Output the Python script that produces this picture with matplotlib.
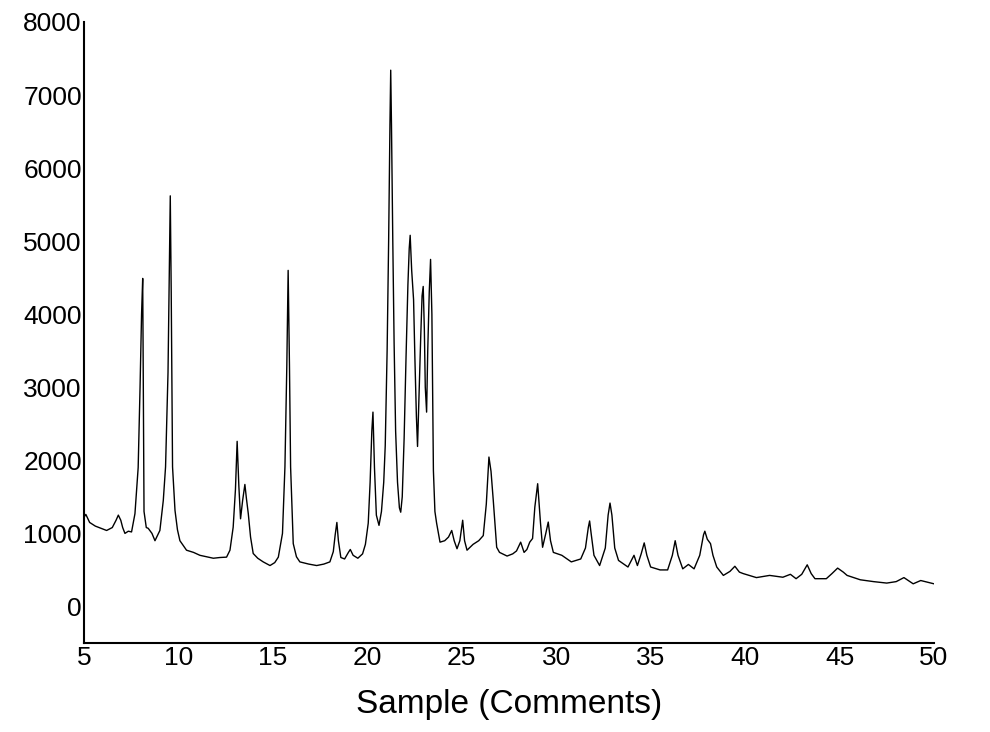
import matplotlib
matplotlib.use('Agg')
import matplotlib.pyplot as plt

# angle (2-theta) and intensity
two_theta = [
    5.0, 5.1, 5.3, 5.6, 6.0, 6.2, 6.5, 6.7, 6.82, 6.95, 7.05, 7.17, 7.35, 7.52,
    7.7, 7.87, 7.97, 8.05, 8.11, 8.15, 8.18, 8.3, 8.4, 8.6, 8.76, 9.02, 9.2,
    9.32, 9.45, 9.52, 9.57, 9.62, 9.69, 9.82, 9.95, 10.08, 10.43, 10.8, 11.14,
    11.5, 11.85, 12.2, 12.55, 12.73, 12.9, 13.02, 13.11, 13.2, 13.29, 13.4,
    13.52, 13.6, 13.7, 13.82, 13.96, 14.2, 14.49, 14.85, 15.1, 15.29, 15.51,
    15.64, 15.74, 15.81, 15.88, 15.94, 16.08, 16.25, 16.43, 16.9, 17.32, 17.7,
    18.02, 18.2, 18.3, 18.39, 18.47, 18.6, 18.8, 19.0, 19.1, 19.25, 19.5,
    19.75, 19.9, 20.05, 20.15, 20.24, 20.3, 20.38, 20.48, 20.62, 20.75, 20.87,
    20.95, 21.05, 21.13, 21.2, 21.24, 21.28, 21.35, 21.42, 21.5, 21.6, 21.7,
    21.77, 21.85, 21.95, 22.05, 22.15, 22.22, 22.27, 22.35, 22.45, 22.52,
    22.6, 22.66, 22.75, 22.83, 22.9, 22.96, 23.02, 23.07, 23.14, 23.2, 23.28,
    23.35, 23.42, 23.46, 23.5, 23.58, 23.67, 23.85, 24.1, 24.3, 24.47, 24.6,
    24.75, 24.9, 25.05, 25.15, 25.28, 25.6, 25.9, 26.14, 26.3, 26.44, 26.55,
    26.67, 26.85, 27.0, 27.4, 27.7, 27.9, 28.12, 28.3, 28.45, 28.6, 28.75,
    28.87, 29.02, 29.1, 29.17, 29.28, 29.45, 29.58, 29.7, 29.85, 30.3, 30.8,
    31.3, 31.55, 31.7, 31.77, 31.85, 32.0, 32.3, 32.6, 32.75, 32.85, 32.95,
    33.1, 33.3, 33.8, 34.12, 34.3, 34.5, 34.66, 34.8, 35.0, 35.5, 35.9, 36.15,
    36.3, 36.45, 36.7, 37.0, 37.3, 37.6, 37.8, 37.87, 38.0, 38.17, 38.3, 38.5,
    38.85, 39.2, 39.46, 39.7, 39.9, 40.6, 41.3, 42.0, 42.4, 42.7, 43.0, 43.29,
    43.5, 43.7, 44.3, 44.6, 44.9, 45.2, 45.4, 46.1, 46.8, 47.5, 48.0, 48.41,
    48.9, 49.3, 50.0,
]
intensity = [
    1220, 1260, 1150, 1100, 1060, 1040, 1080, 1180, 1250, 1180, 1080, 1000,
    1030, 1020, 1270, 1900, 3000, 4000, 4490, 2800, 1300, 1080, 1070, 1000,
    900, 1040, 1450, 1910, 3200, 4600, 5620, 4300, 1910, 1315, 1050, 900, 770,
    740, 700, 680, 660, 670, 675, 770, 1085, 1600, 2260, 1650, 1200, 1450,
    1670, 1480, 1270, 950, 725, 660, 610, 560, 600, 675, 1000, 1910, 3300,
    4600, 3300, 1910, 860, 680, 610, 580, 560, 580, 610, 750, 980, 1150, 900,
    670, 650, 740, 780, 700, 660, 720, 850, 1140, 1700, 2400, 2660, 1900,
    1250, 1110, 1300, 1700, 2200, 3500, 5000, 6600, 7340, 6600, 5000, 3600,
    2400, 1700, 1350, 1290, 1500, 2300, 3400, 4400, 4900, 5080, 4600, 4200,
    3400, 2600, 2190, 3000, 3700, 4250, 4380, 3800, 3000, 2660, 3500, 4300,
    4750, 4000, 3000, 1860, 1300, 1140, 880, 900, 950, 1040, 900, 790, 900,
    1180, 900, 770, 850, 900, 970, 1400, 2045, 1850, 1450, 810, 740, 690, 720,
    760, 880, 740, 780, 880, 930, 1360, 1680, 1400, 1140, 810, 1000, 1155,
    900, 740, 700, 610, 650, 800, 1080, 1170, 1000, 700, 560, 800, 1250, 1415,
    1250, 800, 630, 540, 700, 560, 720, 870, 700, 540, 500, 500, 700, 900, 700,
    515, 575, 515, 700, 980, 1030, 920, 860, 700, 540, 425, 480, 550, 470, 450,
    395, 425, 400, 440, 380, 440, 570, 450, 380, 380, 450, 525, 470, 425, 365,
    340, 320, 340, 395, 310, 355, 310,
]

x_ticks = [5, 10, 15, 20, 25, 30, 35, 40, 45, 50]
y_ticks = [0, 1000, 2000, 3000, 4000, 5000, 6000, 7000, 8000]

plt.rcParams['font.family'] = ['Liberation Sans', 'DejaVu Sans']

fig = plt.figure(figsize=(9.9, 7.32), dpi=100)
ax = fig.add_axes([0.0848, 0.1216, 0.8586, 0.8484])

ax.plot(two_theta, intensity, color='black', linewidth=1.0)

ax.set_xlim(5, 50)
ax.set_ylim(-500, 8000)
ax.set_xticks(x_ticks)
ax.set_yticks(y_ticks)
ax.tick_params(axis='both', length=0, labelsize=19)
ax.tick_params(axis='x', pad=2)
ax.tick_params(axis='y', pad=1.5)

ax.spines['top'].set_visible(False)
ax.spines['right'].set_visible(False)
ax.spines['left'].set_linewidth(1.5)
ax.spines['bottom'].set_linewidth(1.5)

ax.set_xlabel('Sample (Comments)', fontsize=24, labelpad=14)

plt.savefig('out.png', dpi=100)
plt.close()
